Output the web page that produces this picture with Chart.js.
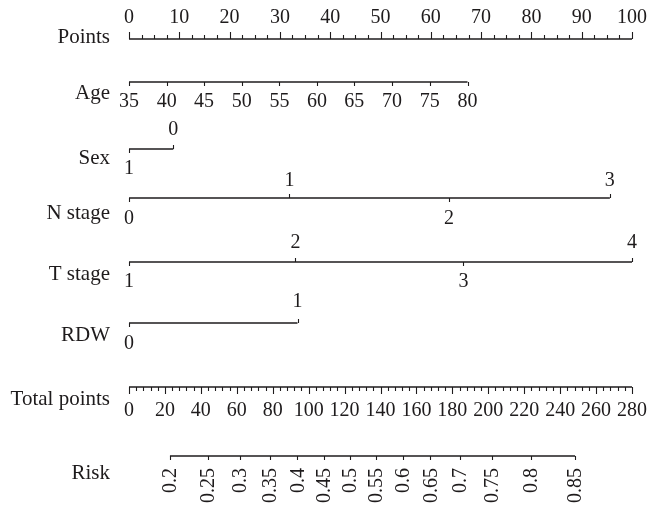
<!DOCTYPE html>
<html><head><meta charset="utf-8">
<script src="https://cdn.jsdelivr.net/npm/chart.js@4"></script>
<style>html,body{margin:0;padding:0;background:#fff}#wrap{width:648px;height:505px;position:relative}</style>
</head><body><div id="wrap"><canvas id="c"></canvas></div>
<script>
// ---- data ----
const rowNames = ['Points','Age','Sex','N stage','T stage','RDW','Total points','Risk'];
const pointsTicks = [0,10,20,30,40,50,60,70,80,90,100];
const ageLabels = ['35','40','45','50','55','60','65','70','75','80'];
const agePoints = [0,7.5,14.9,22.4,29.9,37.4,44.8,52.3,59.8,67.3];
const sexLabels = ['1','0'];
const sexPoints = [0,8.8];
const nLabels = ['0','1','2','3'];
const nPoints = [0,31.9,63.6,95.6];
const tLabels = ['1','2','3','4'];
const tPoints = [0,33.1,66.5,100];
const rdwLabels = ['0','1'];
const rdwPoints = [0,33.5];
const totalTicks = [0,20,40,60,80,100,120,140,160,180,200,220,240,260,280];
const riskLabels = ['0.2','0.25','0.3','0.35','0.4','0.45','0.5','0.55','0.6','0.65','0.7','0.75','0.8','0.85'];
const riskTotalPoints = [22.8,43.7,61.8,78.6,93.7,108.4,122.8,137.5,152.4,167.8,184.1,202.2,223.7,248.3];

// ---- layout / style ----
const S = {
  color:'#1e1b1c',
  font:'20px "Liberation Serif", "DejaVu Serif", serif',
  nameFont:'21px "Liberation Serif", "DejaVu Serif", serif',
  lineWidth:1.3, labelX:110,
  rowY:[39,82,149,198,262,323,387,456],
  nameDY:[-2,11,9,15,12,12,12,17],
  catUp:[0,0,-19,-17,-19,-21],
  catDown:[0,0,20,21,20,21],
  major:7, minor:4, catTick:4
};

const rows = [
  {axis:'x', vals:pointsTicks},
  {axis:'x', vals:agePoints},
  {axis:'x', vals:sexPoints},
  {axis:'x', vals:nPoints},
  {axis:'x', vals:tPoints},
  {axis:'x', vals:rdwPoints},
  {axis:'xt', vals:totalTicks},
  {axis:'xt', vals:riskTotalPoints}
];

const datasets = rows.map((r,i)=>({
  data:[{x:r.vals[0],y:S.rowY[i]},{x:r.vals[r.vals.length-1],y:S.rowY[i]}],
  xAxisID:r.axis, yAxisID:'y', showLine:true, pointRadius:0,
  borderColor:S.color, borderWidth:S.lineWidth, borderCapStyle:'butt'
}));

const nomoPlugin = {
  id:'nomo',
  afterDatasetsDraw(chart){
    const ctx = chart.ctx, X = chart.scales.x, XT = chart.scales.xt, Y = chart.scales.y;
    ctx.save();
    ctx.strokeStyle = S.color; ctx.fillStyle = S.color; ctx.lineWidth = 1.1;
    const tick = (px, y, len) => { // len>0 down, <0 up
      const xx = Math.round(px)+0.5;
      ctx.beginPath(); ctx.moveTo(xx, y); ctx.lineTo(xx, y+len); ctx.stroke();
    };
    const text = (t, x, y, align) => {
      ctx.textAlign = align||'center'; ctx.textBaseline = 'middle'; ctx.fillText(t, x, y);
    };
    // row names
    ctx.font = S.nameFont;
    rowNames.forEach((n,i)=>text(n, S.labelX, Y.getPixelForValue(S.rowY[i])+S.nameDY[i], 'right'));
    ctx.font = S.font;
    // Points axis (ticks up, labels above)
    let y = Y.getPixelForValue(S.rowY[0]);
    for (let v=0; v<=100.001; v+=2.5) tick(X.getPixelForValue(v), y, (v%10===0)? -S.major : -S.minor);
    pointsTicks.forEach(v=>text(String(v), X.getPixelForValue(v), y-21));
    // Age (ticks down, labels below)
    y = Y.getPixelForValue(S.rowY[1]);
    agePoints.forEach((v,k)=>{ tick(X.getPixelForValue(v), y, S.catTick); text(ageLabels[k], X.getPixelForValue(v), y+20); });
    // categorical rows, alternating below/above
    [[sexPoints,sexLabels,2],[nPoints,nLabels,3],[tPoints,tLabels,4],[rdwPoints,rdwLabels,5]].forEach(([pts,lab,ri])=>{
      const yy = Y.getPixelForValue(S.rowY[ri]);
      pts.forEach((v,k)=>{
        const px = X.getPixelForValue(v);
        const up = k%2===1;
        tick(px, yy, up? -S.catTick : S.catTick);
        text(lab[k], px, up? yy+S.catUp[ri] : yy+S.catDown[ri]);
      });
    });
    // Total points (ticks down)
    y = Y.getPixelForValue(S.rowY[6]);
    for (let v=0; v<=280.001; v+=4) tick(XT.getPixelForValue(v), y, (v%20===0)? S.major : S.minor);
    totalTicks.forEach(v=>text(String(v), XT.getPixelForValue(v), y+24));
    // Risk (ticks down, rotated labels)
    y = Y.getPixelForValue(S.rowY[7]);
    riskTotalPoints.forEach((v,k)=>{
      const px = XT.getPixelForValue(v);
      tick(px, y, S.catTick);
      ctx.save(); ctx.translate(px+1, y+12); ctx.rotate(-Math.PI/2);
      ctx.textAlign='right'; ctx.textBaseline='middle'; ctx.fillText(riskLabels[k], 0, 0);
      ctx.restore();
    });
    ctx.restore();
  }
};

new Chart(document.getElementById('c'), {
  type:'scatter',
  data:{datasets},
  options:{
    responsive:true, maintainAspectRatio:false, animation:false,
    layout:{padding:{left:129,right:16,top:0,bottom:0}},
    scales:{
      x:{type:'linear',min:0,max:100,display:false},
      xt:{type:'linear',axis:'x',min:0,max:280,display:false},
      y:{type:'linear',min:0,max:505,reverse:true,display:false}
    },
    plugins:{legend:{display:false},tooltip:{enabled:false}}
  },
  plugins:[nomoPlugin]
});
</script></body></html>
